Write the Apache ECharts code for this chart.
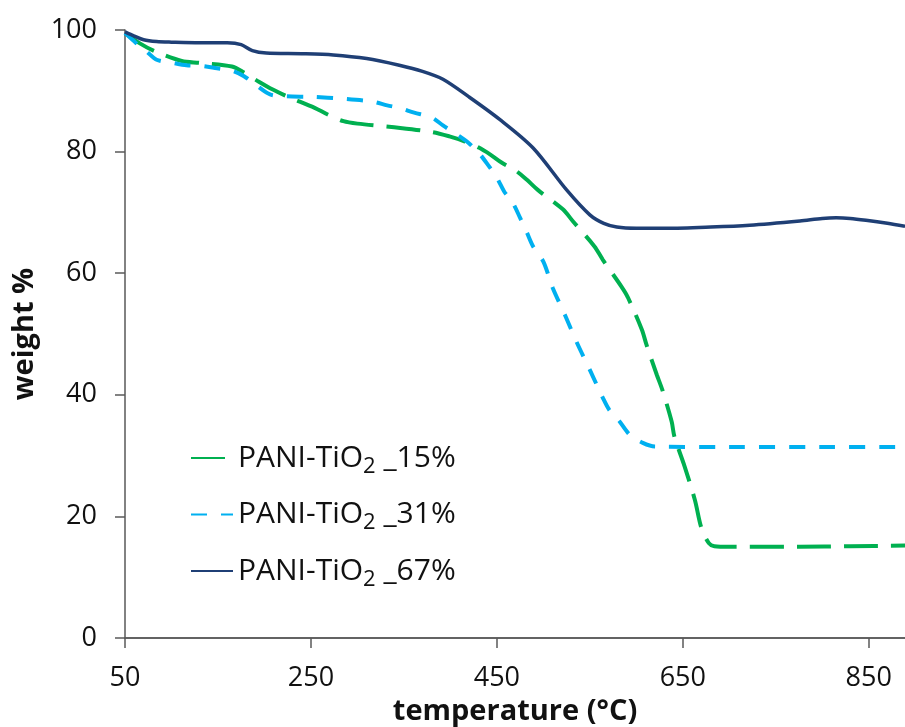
<!DOCTYPE html>
<html>
<head>
<meta charset="utf-8">
<script src="https://cdn.jsdelivr.net/npm/echarts@6/dist/echarts.min.js"></script>
<style>
  html, body { margin: 0; padding: 0; background: #fff; }
  #chart { width: 905px; height: 727px; }
</style>
</head>
<body>
<div id="chart"></div>
<script>
// Thermogravimetric curves: temperature (°C) vs remaining weight (%)
const seriesNames = ['PANI-TiO2 _15%', 'PANI-TiO2 _31%', 'PANI-TiO2 _67%'];
const xTicks = [50, 250, 450, 650, 850];
const yTicks = [0, 20, 40, 60, 80, 100];

const temp15 = [50, 66, 82, 111, 130, 165, 178, 194, 209, 224, 254, 268, 285, 300, 346, 381, 399, 415, 430, 443, 455, 470, 482, 494, 521, 532, 555, 564, 584, 591, 606, 611, 622, 628, 638, 641, 652, 663, 670, 678, 684, 700, 775, 830, 889];
const weight15 = [99.5, 97.8, 96.5, 94.9, 94.6, 94.0, 93.0, 91.5, 90.2, 89.1, 87.2, 86.1, 85.0, 84.6, 83.9, 83.2, 82.5, 81.7, 80.7, 79.5, 78.2, 76.9, 75.4, 73.7, 70.5, 68.5, 64.4, 62.2, 57.8, 56.0, 50.7, 48.2, 43.3, 40.8, 35.6, 33.1, 28.2, 22.7, 18.1, 15.6, 15.1, 15.0, 15.0, 15.1, 15.2];

const temp31 = [50, 58, 66, 73, 84, 101, 116, 133, 149, 165, 178, 192, 206, 222, 252, 284, 317, 332, 345, 361, 380, 392, 407, 419, 432, 440, 450, 458, 467, 475, 482, 489, 500, 510, 523, 536, 550, 564, 571, 582, 593, 607, 620, 700, 800, 889];
const weight31 = [99.5, 98.4, 97.3, 96.5, 95.1, 94.6, 94.2, 94.1, 93.7, 93.3, 92.4, 90.8, 89.4, 89.1, 89.0, 88.7, 88.2, 87.6, 87.2, 86.4, 85.6, 84.3, 82.8, 81.5, 79.5, 77.9, 75.7, 73.4, 71.6, 69.1, 66.8, 64.4, 61.9, 57.6, 53.2, 48.6, 44.1, 39.5, 37.5, 35.6, 33.4, 32.1, 31.5, 31.4, 31.4, 31.4];

const temp67 = [50, 60, 70, 84, 100, 130, 160, 175, 187, 202, 240, 274, 310, 345, 370, 392, 420, 453, 489, 525, 550, 565, 579, 600, 632, 680, 722, 776, 800, 815, 830, 847, 870, 889];
const weight67 = [99.7, 99.0, 98.4, 98.1, 98.0, 97.9, 97.9, 97.6, 96.6, 96.2, 96.1, 95.9, 95.3, 94.2, 93.2, 91.9, 89.0, 85.3, 80.6, 73.7, 69.6, 68.2, 67.6, 67.4, 67.4, 67.6, 67.9, 68.6, 69.0, 69.1, 69.0, 68.7, 68.2, 67.7];

const pair = (xs, ys) => xs.map((x, i) => [x, ys[i]]);

const FONT = '"Open Sans", "Noto Sans", sans-serif';
const AXIS_COLOR = '#595959';

const legendRich = {
  n: { fontFamily: FONT, fontSize: 30, color: '#111' },
  s: { fontFamily: FONT, fontSize: 22, color: '#111', padding: [17, 0, 0, 0] }
};

const chart = echarts.init(document.getElementById('chart'), null, { renderer: 'canvas' });

chart.setOption({
  animation: false,
  backgroundColor: '#ffffff',
  grid: { left: 125, right: 0, top: 30, bottom: 89, containLabel: false, outerBoundsMode: 'none' },
  legend: {
    orient: 'vertical',
    left: 190,
    top: 443,
    padding: 0,
    itemWidth: 42,
    itemHeight: 14,
    itemGap: 22,
    data: seriesNames,
    itemStyle: { opacity: 0 },
    formatter: name => {
      const [head, tail] = name.split('2');
      return '{n|' + head + '}{s|2}{n|' + tail + '}';
    },
    textStyle: { rich: legendRich }
  },
  xAxis: [{
    type: 'value',
    min: 50,
    max: 889,
    interval: 200,
    name: 'temperature (°C)',
    nameLocation: 'middle',
    nameGap: 58,
    nameTextStyle: { fontFamily: FONT, fontSize: 29, fontWeight: 'bold', color: '#111' },
    axisLine: { show: true, onZero: false, lineStyle: { color: AXIS_COLOR, width: 1.5 } },
    axisTick: { show: true, inside: false, length: 10, lineStyle: { color: AXIS_COLOR, width: 1.5 } },
    axisLabel: {
      fontFamily: FONT, fontSize: 27, color: '#111', margin: 27,
      showMaxLabel: false,
      formatter: v => (xTicks.includes(v) ? String(v) : '')
    },
    splitLine: { show: false }
  }, {
    type: 'value',
    position: 'top',
    min: 50,
    max: 889,
    axisLine: { show: true, lineStyle: { color: AXIS_COLOR, width: 1.5 } },
    axisTick: { show: false },
    axisLabel: { show: false },
    splitLine: { show: false }
  }],
  yAxis: {
    type: 'value',
    min: 0,
    max: 100,
    interval: 20,
    name: 'weight %',
    nameLocation: 'middle',
    nameGap: 86,
    nameTextStyle: { fontFamily: FONT, fontSize: 29, fontWeight: 'bold', color: '#111' },
    axisLine: { show: true, lineStyle: { color: AXIS_COLOR, width: 1.5 } },
    axisTick: { show: true, inside: false, length: 10, lineStyle: { color: AXIS_COLOR, width: 1.5 } },
    axisLabel: {
      fontFamily: FONT, fontSize: 27, color: '#111', margin: 28,
      formatter: v => (yTicks.includes(v) ? String(v) : '')
    },
    splitLine: { show: false }
  },
  series: [{
    name: seriesNames[0],
    type: 'line',
    data: pair(temp15, weight15),
    showSymbol: false,
    symbol: 'none',
    smooth: 0.3,
    lineStyle: { color: '#00B050', width: 4, type: [34, 13] },
    itemStyle: { color: '#00B050' },
    z: 2
  }, {
    name: seriesNames[1],
    type: 'line',
    data: pair(temp31, weight31),
    showSymbol: false,
    symbol: 'none',
    smooth: 0.3,
    lineStyle: { color: '#00B0F0', width: 4, type: [16, 14] },
    itemStyle: { color: '#00B0F0' },
    z: 3
  }, {
    name: seriesNames[2],
    type: 'line',
    data: pair(temp67, weight67),
    showSymbol: false,
    symbol: 'none',
    smooth: 0.3,
    lineStyle: { color: '#1F3F75', width: 3.5, type: 'solid' },
    itemStyle: { color: '#1F3F75' },
    z: 4
  }]
});
</script>
</body>
</html>
